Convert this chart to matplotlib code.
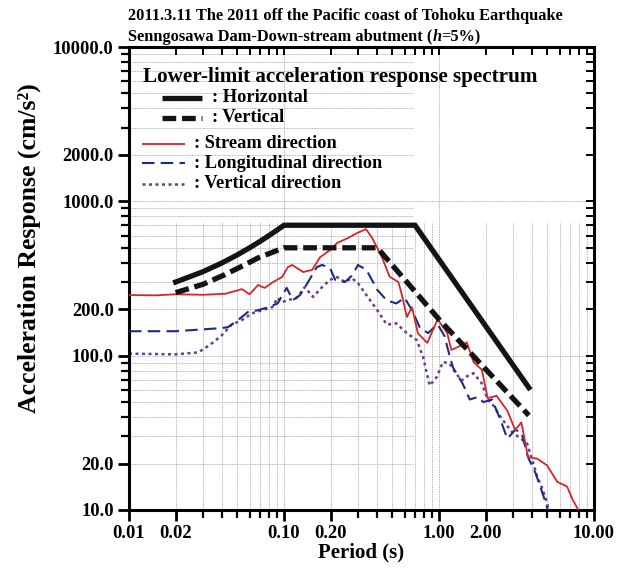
import matplotlib
matplotlib.use("Agg")
import matplotlib.pyplot as plt
from matplotlib.ticker import FixedLocator, FixedFormatter, NullFormatter

# ---------------- data ----------------
horiz_T = [0.02, 0.03, 0.04, 0.05, 0.06, 0.07, 0.08, 0.09, 0.1, 0.7, 3.8]
horiz_A = [300, 350, 400, 450, 500, 550, 600, 650, 700, 700, 62]

vert_T = [0.02, 0.03, 0.0416, 0.055, 0.068, 0.0877, 0.1, 0.4, 1.0, 3.8]
vert_A = [256, 290, 335, 385, 430, 475, 500, 500, 172, 41]

stream_T = [0.01, 0.015, 0.02, 0.03, 0.042, 0.0536, 0.06, 0.068, 0.075, 0.085,
            0.097, 0.106, 0.113, 0.133, 0.152, 0.171, 0.198, 0.22, 0.258, 0.296,
            0.338, 0.37, 0.40, 0.43, 0.48, 0.547, 0.58, 0.62, 0.67, 0.73, 0.84,
            0.98, 1.13, 1.2, 1.33, 1.51, 1.67, 1.89, 2.06, 2.35, 2.76, 3.1, 3.4,
            3.75, 4.3, 4.97, 5.8, 6.7, 7.3, 7.8, 8.2]
stream_A = [247, 246, 250, 248, 252, 270, 250, 287, 275, 300,
            323, 375, 387, 348, 360, 435, 483, 537, 578, 623,
            661, 580, 500, 430, 325, 300, 241, 178, 206, 140, 121,
            172, 140, 109, 114, 122, 91, 81, 53, 55, 44, 33, 37,
            22, 21.5, 19.5, 15.2, 14.2, 11.6, 10.3, 9.0]

longi_T = [0.01, 0.02, 0.0398, 0.0435, 0.0505, 0.0585, 0.068, 0.079, 0.091, 0.104,
           0.114, 0.127, 0.143, 0.163, 0.176, 0.198, 0.214, 0.247, 0.274, 0.30,
           0.34, 0.40, 0.46, 0.53, 0.60, 0.67, 0.75, 0.85, 0.98, 1.09, 1.13,
           1.23, 1.42, 1.58, 1.78, 1.93, 2.2, 2.5, 2.76, 3.1, 3.4, 3.75, 4.18,
           4.5, 4.9, 5.1]
longi_A = [144, 144, 151, 153, 170, 192, 197, 206, 218, 275,
           229, 247, 300, 375, 387, 370, 310, 300, 330, 387,
           360, 267, 228, 218, 237, 197, 153, 140, 160, 133, 114,
           84, 66, 52, 54, 50, 52, 38, 29, 33, 32, 22, 17.5,
           14.2, 11, 9.5]

vdir_T = [0.01, 0.02, 0.028, 0.0318, 0.035, 0.0398, 0.046, 0.0536, 0.062, 0.072,
          0.084, 0.091, 0.097, 0.106, 0.121, 0.136, 0.154, 0.176, 0.198, 0.22,
          0.247, 0.274, 0.30, 0.34, 0.40, 0.46, 0.53, 0.62, 0.72, 0.79, 0.87,
          0.97, 1.06, 1.17, 1.27, 1.4, 1.53, 1.67, 1.89, 2.06, 2.2, 2.5, 2.76,
          3.0, 3.3, 3.7, 4.0, 4.3, 4.65, 5.0, 5.1]
vdir_A = [103, 102, 105, 114, 122, 136, 159, 170, 188, 197,
          206, 237, 222, 229, 237, 278, 240, 278, 310, 323,
          300, 318, 295, 247, 197, 159, 162, 140, 126, 98, 64,
          73, 91, 89, 78, 69, 74, 77, 66, 52, 49, 40, 35,
          31.5, 29.5, 27, 21, 16.5, 13.7, 11, 9.5]

x_ticks = [0.01, 0.02, 0.1, 0.2, 1.0, 2.0, 10.0]
x_labels = ["0.01", "0.02", "0.10", "0.20", "1.00", "2.00", "10.00"]
y_ticks = [10, 20, 100, 200, 1000, 2000, 10000]
y_labels = ["10.0", "20.0", "100.0", "200.0", "1000.0", "2000.0", "10000.0"]

title1 = "2011.3.11 The 2011 off the Pacific coast of Tohoku Earthquake"
title2a = "Senngosawa Dam-Down-stream abutment ("
title2b = "h"
title2c = "=5%)"
legend_title = "Lower-limit acceleration response spectrum"
legend_entries = [": Horizontal", ": Vertical", ": Stream direction",
                  ": Longitudinal direction", ": Vertical direction"]

# ---------------- style ----------------
SERIF = ["Liberation Serif", "DejaVu Serif"]
plt.rcParams['font.family'] = SERIF
plt.rcParams['font.weight'] = 'bold'

RED = "#d4262a"
BLUE = "#1c2c82"
PURPLE = "#6a3d8c"
GRID = "#b4b4b4"
BLACK = "#141414"

W, H = 623, 570
fig = plt.figure(figsize=(W / 100, H / 100), dpi=100)
L, R, T, B = 129, 594, 47, 510
ax = fig.add_axes([L / W, 1 - B / H, (R - L) / W, (B - T) / H])
ax.set_xscale("log")
ax.set_yscale("log")
ax.set_xlim(0.01, 10)
ax.set_ylim(10, 10000)

# grid (partial, as in the reference)
xminor = [m * 10.0 ** e for e in (-2, -1, 0) for m in range(2, 10)]
yminor = [m * 10.0 ** e for e in (1, 2, 3) for m in range(2, 10)]
gkw = dict(color=GRID, lw=0.6, linestyles=(0, (2, 1)), zorder=0.5)
ax.vlines(xminor, 10, 735, **gkw)
ax.vlines([0.1, 1.0], 10, 10000, **gkw)
ax.hlines(yminor, 0.01, 0.68, **gkw)
ax.hlines([100, 1000], 0.01, 10, **gkw)

# curves
ax.plot(vdir_T, vdir_A, color=PURPLE, lw=1.8, ls=(0, (1.2, 1.4)), zorder=2)
ax.plot(longi_T, longi_A, color=BLUE, lw=1.5, ls=(0, (6, 3)), zorder=3)
ax.plot(stream_T, stream_A, color=RED, lw=1.3, zorder=4)
ax.plot(vert_T, vert_A, color=BLACK, lw=3.8, ls=(0, (2.6, 1.1)), zorder=5,
        dash_capstyle="butt")
ax.plot(horiz_T, horiz_A, color=BLACK, lw=3.8, zorder=6, solid_joinstyle="miter")

# ticks
ax.xaxis.set_major_locator(FixedLocator(x_ticks))
ax.xaxis.set_major_formatter(FixedFormatter(x_labels))
ax.xaxis.set_minor_locator(FixedLocator([v for v in xminor if v not in (0.02, 0.2, 2.0)]))
ax.xaxis.set_minor_formatter(NullFormatter())
ax.yaxis.set_major_locator(FixedLocator(y_ticks))
ax.yaxis.set_major_formatter(FixedFormatter(y_labels))
ax.yaxis.set_minor_locator(FixedLocator([v for v in yminor if v not in (20, 200, 2000)]))
ax.yaxis.set_minor_formatter(NullFormatter())
ax.tick_params(axis="both", which="major", direction="out", length=8, width=2,
               labelsize=13.3, pad=3)
ax.tick_params(axis="both", which="minor", direction="out", length=6, width=1.6)
for lab in ax.get_xticklabels() + ax.get_yticklabels():
    lab.set_fontweight("bold")

# inward ticks on top/right
for v in xminor + [0.1, 1.0]:
    ax.plot([v, v], [1, 0.985], transform=ax.get_xaxis_transform(),
            color="k", lw=1.4, clip_on=False, zorder=7)
for v in yminor + [100, 1000]:
    ax.plot([1, 0.985], [v, v], transform=ax.get_yaxis_transform(),
            color="k", lw=1.4, clip_on=False, zorder=7)

for s in ax.spines.values():
    s.set_linewidth(2.2)

ax.set_xlabel("Period (s)", fontsize=15, fontweight="bold", labelpad=0)
fig.text(29 / W, 1 - 248 / H, "Acceleration Response (cm/s\u00b2)", rotation=90,
         ha="center", va="center", fontsize=18.5, fontweight="bold")

# titles
TS = 11.8
fig.text(128 / W, 1 - 16 / H, title1, fontsize=TS, fontweight="bold",
         ha="left", va="center")
t2 = fig.text(128 / W, 1 - 37 / H, title2a, fontsize=TS, fontweight="bold",
              ha="left", va="center")
fig.canvas.draw()
bb = t2.get_window_extent()
t3 = fig.text(bb.x1 / W, 1 - 37 / H, title2b, fontsize=TS, fontweight="bold",
              style="italic", ha="left", va="center")
bb3 = t3.get_window_extent()
fig.text(bb3.x1 / W, 1 - 37 / H, title2c, fontsize=TS, fontweight="bold",
         ha="left", va="center")

# legend (manual)
def fx(px):
    return (px - L) / (R - L)

def fy(py):
    return (B - py) / (B - T)

ax.text(fx(143), fy(77), legend_title, transform=ax.transAxes, fontsize=15.2,
        fontweight="bold", ha="left", va="center", zorder=8)
leg_styles = [
    dict(color=BLACK, lw=3.8, x0=162, x1=202, tx=212, y=98),
    dict(color=BLACK, lw=3.8, ls=(0, (2.6, 1.1)), x0=162, x1=202, tx=212, y=118),
    dict(color=RED, lw=1.3, x0=142, x1=185, tx=194, y=144),
    dict(color=BLUE, lw=1.5, ls=(0, (6, 3)), x0=142, x1=185, tx=194, y=163),
    dict(color=PURPLE, lw=1.8, ls=(0, (1.2, 1.4)), x0=142, x1=185, tx=194, y=184),
]
for st, lab in zip(leg_styles, legend_entries):
    kw = dict(color=st["color"], lw=st["lw"], transform=ax.transAxes, zorder=8,
              solid_capstyle="butt", dash_capstyle="butt")
    if "ls" in st:
        kw["ls"] = st["ls"]
    ax.plot([fx(st["x0"]), fx(st["x1"])], [fy(st["y"]), fy(st["y"])], **kw)
    ax.text(fx(st["tx"]), fy(st["y"]), lab, transform=ax.transAxes, fontsize=13.2,
            fontweight="bold", ha="left", va="center", zorder=8)

fig.savefig("out.png", dpi=100)
